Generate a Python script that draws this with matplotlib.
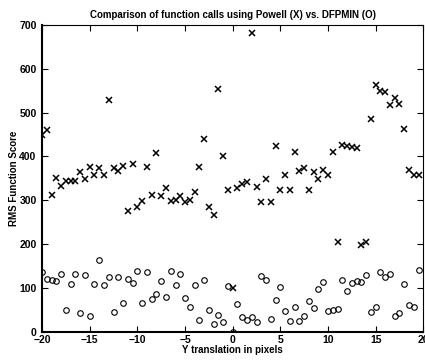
import numpy as np
import matplotlib
matplotlib.use("Agg")
import matplotlib.pyplot as plt

plt.rcParams['font.family'] = ['Liberation Sans', 'DejaVu Sans']

# y translation (pixels), one Powell and one DFPMIN run per step
shift = np.arange(-20, 20, 0.5)

powell = [448, 461, 313, 352, 333, 345, 344, 345, 364, 348,
          377, 357, 373, 357, 529, 374, 367, 379, 275, 382,
          285, 298, 377, 311, 407, 310, 327, 298, 301, 309,
          296, 301, 319, 376, 439, 285, 267, 554, 401, 323,
          99, 328, 338, 342, 682, 330, 296, 348, 296, 423,
          323, 358, 323, 410, 366, 374, 324, 364, 349, 370,
          358, 410, 205, 427, 424, 421, 420, 198, 204, 485,
          564, 550, 547, 518, 533, 520, 463, 368, 357, 358]

dfpmin = [137, 120, 118, 116, 133, 50, 109, 131, 42, 130,
          37, 109, 164, 107, 126, 46, 126, 65, 120, 111,
          139, 67, 137, 76, 86, 116, 80, 138, 106, 132,
          77, 56, 108, 27, 118, 51, 18, 38, 23, 105,
          0, 64, 35, 27, 34, 22, 128, 118, 30, 73,
          102, 47, 24, 57, 25, 36, 71, 54, 98, 114,
          47, 50, 52, 119, 93, 112, 117, 114, 129, 45,
          57, 136, 125, 131, 37, 44, 110, 61, 56, 141]

fig = plt.figure(figsize=(4.25, 3.6), dpi=100)
ax = fig.add_axes([0.099, 0.078, 0.897, 0.853])

ax.plot(shift, powell, 'x', color='black', markersize=4.8, markeredgewidth=1.1)
ax.plot(shift, dfpmin, 'o', color='black', markerfacecolor='none',
        markersize=4, markeredgewidth=0.8)

ax.set_xlim(-20, 20)
ax.set_ylim(0, 700)
ax.set_xticks(range(-20, 21, 5))
ax.set_yticks(range(0, 701, 100))
ax.tick_params(direction='in', top=True, right=True, length=4, width=0.8,
               labelsize=7.5)
ax.tick_params(axis='y', pad=4)
ax.tick_params(axis='x', pad=2)
for lbl in ax.get_xticklabels() + ax.get_yticklabels():
    lbl.set_fontweight('bold')
for side in ['left', 'bottom']:
    ax.spines[side].set_linewidth(1.5)
for side in ['top', 'right']:
    ax.spines[side].set_linewidth(0.8)

ax.set_title("Comparison of function calls using Powell (X) vs. DFPMIN (O)",
             fontsize=7, fontweight='bold', pad=5)
ax.set_xlabel("Y translation in pixels", fontsize=7, fontweight='bold', labelpad=0)
ax.set_ylabel("RMS Function Score", fontsize=7, fontweight='bold', labelpad=0)

fig.savefig("out.png", dpi=100)
